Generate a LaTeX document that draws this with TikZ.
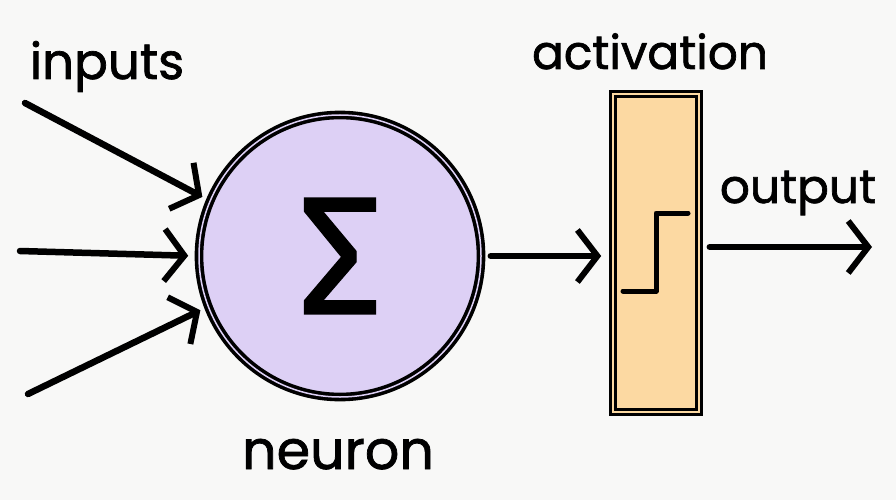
\documentclass[tikz,border=0pt]{standalone}
\usepackage{fontspec}
\setmainfont{Poppins}
\newfontfamily\tagfont{Poppins}[FakeBold=1.4]
\newfontfamily\greekfont{Fira Sans}[FakeBold=0.8]
\usetikzlibrary{arrows.meta,positioning}
\definecolor{paper}{RGB}{248,248,247}
\definecolor{lavender}{RGB}{221,208,245}
\definecolor{peach}{RGB}{252,217,162}
\tikzset{
    sketch/.style={draw,line width=3.6pt,double distance=1.5pt},
    neuronbox/.style={circle,sketch,fill=lavender,double=lavender,minimum size=282pt,inner sep=0pt},
    actbox/.style={rectangle,sketch,fill=peach,double=peach,minimum width=86pt,minimum height=318pt,inner sep=0pt},
    arr/.style={line width=6.5pt,line cap=round,-{Straight Barb[length=20pt,width=52pt,line width=6pt]}},
    tag/.style={anchor=base,font=\tagfont\fontsize{47}{47}\selectfont}
}
\begin{document}
\begin{tikzpicture}[x=1pt,y=-1pt]
    \fill[paper] (0,0) rectangle (896,500);
    \useasboundingbox (0,0) rectangle (896,500);

    % the two boxes
    \node[neuronbox] (neuron) at (340,256) {\greekfont\fontsize{168}{168}\selectfont Σ};
    \node[actbox]    (act)    at (656,253) {};

    % step function inside the activation box
    \draw[line width=5pt,line cap=round,line join=round]
        (623,291) -- (656,291) -- (656,213) -- (688,213);

    % loose ends of the arrows
    \coordinate (in 1)  at (25,103);
    \coordinate (in 2)  at (20,251);
    \coordinate (in 3)  at (28,394);
    \coordinate (out)   at (872,247);

    \draw[arr,shorten >=7pt] (in 1) -- (neuron.157);
    \draw[arr,shorten >=9pt] (in 2) -- (neuron.180);
    \draw[arr,shorten >=7pt] (in 3) -- (neuron.201);
    \draw[arr,shorten <=8pt,shorten >=10pt] (neuron.east) -- (act.west |- neuron.east);
    \draw[arr,shorten <=9pt] (act.east |- out) -- (out);

    % labels
    \node[tag,font=\tagfont\fontsize{50}{50}\selectfont] (inputs lbl) at (107,79) {inputs};
    \node[tag] (activation lbl) at (650,69)  {activation};
    \node[tag] (output lbl)     at (798,203) {output};
    \node[tag,font=\tagfont\fontsize{54}{54}\selectfont] (neuron lbl) at (338,469) {neuron};
\end{tikzpicture}
\end{document}
